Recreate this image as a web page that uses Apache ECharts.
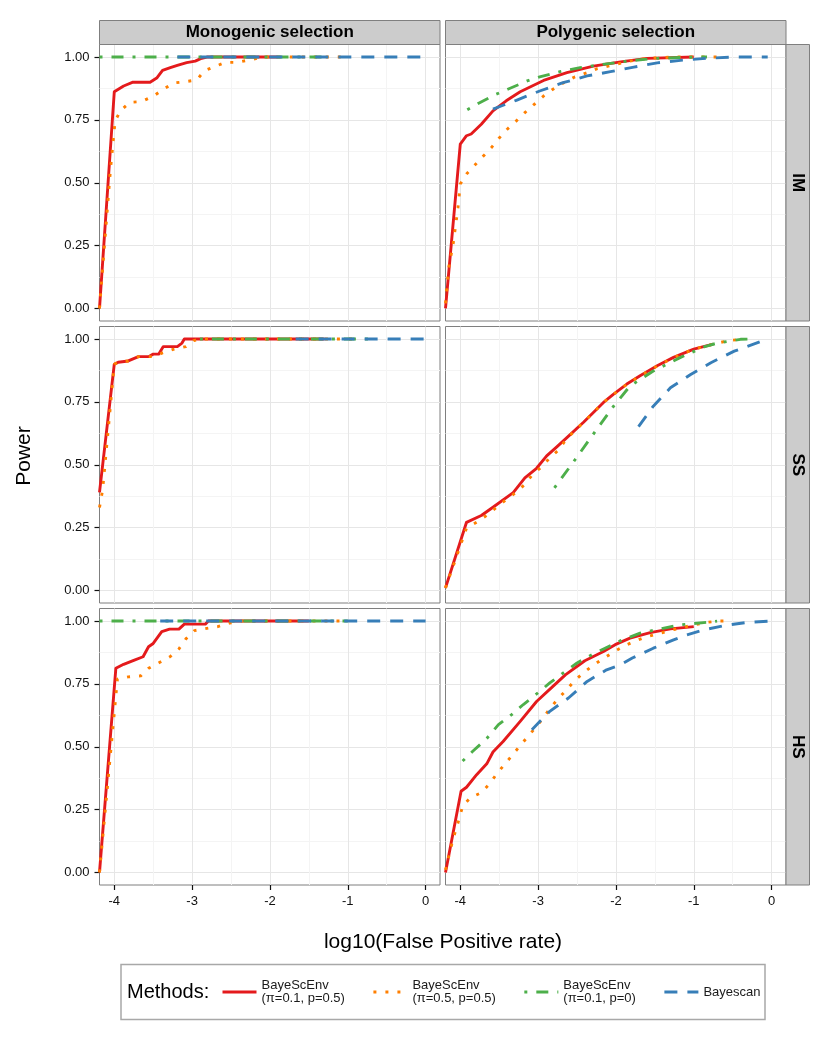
<!DOCTYPE html>
<html>
<head>
<meta charset="utf-8">
<title>Power vs log10(False Positive rate)</title>
<style type="text/css">
	html, body { margin:0; padding:0; background:#fff; }
	#container { width:830px; height:1038px; }
</style>
<script src="https://cdn.jsdelivr.net/npm/echarts@6/dist/echarts.min.js"></script>
</head>
<body>
<div id="container"></div>
<script type="text/javascript">
	// facet labels
	var colNames = ['Monogenic selection', 'Polygenic selection'];
	var rowNames = ['IM', 'SS', 'HS'];
	var methodNames = ['BayeScEnv\n(π=0.1, p=0.5)', 'BayeScEnv\n(π=0.5, p=0.5)', 'BayeScEnv\n(π=0.1, p=0)', 'Bayescan'];

	// axis ticks
	var xTicks = [-4, -3, -2, -1, 0];
	var xMinorTicks = [-3.5, -2.5, -1.5, -0.5];
	var yTicks = [0, 0.25, 0.5, 0.75, 1];
	var yMinorTicks = [0.125, 0.375, 0.625, 0.875];
	var xMin = -4.19, xMax = 0.185, yMin = -0.05, yMax = 1.05;

	// IM, monogenic  [log10 FPR, power]
	var imMonoEnv01 = [[-4.19,0],[-4.0,0.862],[-3.88,0.885],[-3.76,0.90],[-3.54,0.90],[-3.45,0.918],[-3.38,0.947],[-3.28,0.958],[-3.19,0.967],[-3.07,0.978],[-2.96,0.984],[-2.89,0.994],[-2.81,1],[-1.9,1]];
	var imMonoEnv05 = [[-4.19,0],[-4.05,0.55],[-3.99,0.745],[-3.92,0.787],[-3.80,0.82],[-3.65,0.823],[-3.50,0.844],[-3.38,0.87],[-3.24,0.897],[-3.09,0.902],[-2.94,0.909],[-2.84,0.946],[-2.71,0.962],[-2.57,0.979],[-2.42,0.979],[-2.26,0.989],[-2.08,1],[-1.0,1]];
	var imMonoEnvP0 = [[-4.19,1],[-1.3,1]];
	var imMonoScan = [[-3.19,1],[0,1]];

	// IM, polygenic
	var imPolyEnv01 = [[-4.19,0],[-4.0,0.654],[-3.92,0.687],[-3.86,0.694],[-3.73,0.733],[-3.58,0.786],[-3.41,0.826],[-3.23,0.862],[-2.93,0.907],[-2.63,0.938],[-2.29,0.964],[-1.94,0.981],[-1.60,0.995],[-1.0,1]];
	var imPolyEnv05 = [[-4.19,0.02],[-4.15,0.16],[-4.09,0.26],[-4.03,0.40],[-4.0,0.495],[-3.92,0.535],[-3.82,0.568],[-3.71,0.604],[-3.60,0.64],[-3.50,0.678],[-3.40,0.712],[-3.28,0.746],[-3.17,0.779],[-3.05,0.812],[-2.93,0.845],[-2.81,0.872],[-2.67,0.898],[-2.53,0.921],[-2.37,0.938],[-2.24,0.954],[-2.10,0.964],[-1.92,0.977],[-1.77,0.987],[-1.60,0.995],[-1.26,1],[-0.68,1]];
	var imPolyEnvP0 = [[-3.91,0.79],[-3.77,0.815],[-3.54,0.852],[-3.39,0.872],[-3.14,0.905],[-2.98,0.921],[-2.72,0.942],[-2.46,0.958],[-2.12,0.973],[-1.77,0.987],[-1.47,0.995],[-1.0,1],[-0.83,1]];
	var imPolyScan = [[-3.58,0.793],[-3.28,0.828],[-2.98,0.865],[-2.68,0.898],[-2.37,0.925],[-2.07,0.942],[-1.77,0.96],[-1.47,0.977],[-1.17,0.987],[-0.83,0.995],[-0.48,1],[-0.05,1]];

	// SS, monogenic
	var ssMonoEnv01 = [[-4.19,0.39],[-4.0,0.90],[-3.95,0.908],[-3.82,0.913],[-3.69,0.93],[-3.56,0.93],[-3.50,0.94],[-3.43,0.94],[-3.37,0.97],[-3.19,0.97],[-3.13,0.984],[-3.10,1],[-1.3,1]];
	var ssMonoEnv05 = [[-4.19,0.33],[-4.15,0.40],[-4.0,0.90],[-3.95,0.908],[-3.82,0.913],[-3.69,0.93],[-3.50,0.93],[-3.38,0.945],[-3.23,0.96],[-3.08,0.97],[-2.98,0.994],[-2.9,1],[-0.9,1]];
	var ssMonoEnvP0 = [[-2.9,1],[-0.7,1]];
	var ssMonoScan = [[-1.67,1],[0,1]];

	// SS, polygenic
	var ssPolyEnv01 = [[-4.19,0.01],[-3.92,0.271],[-3.73,0.298],[-3.58,0.331],[-3.32,0.389],[-3.17,0.448],[-3.02,0.486],[-2.89,0.535],[-2.76,0.571],[-2.63,0.608],[-2.42,0.668],[-2.16,0.748],[-2.03,0.781],[-1.86,0.821],[-1.69,0.854],[-1.47,0.894],[-1.26,0.927],[-1.0,0.96],[-0.75,0.98]];
	var ssPolyEnv05 = [[-4.19,0.01],[-3.92,0.248],[-3.79,0.271],[-3.66,0.299],[-3.54,0.329],[-3.42,0.359],[-3.29,0.389],[-3.17,0.422],[-3.07,0.462],[-2.96,0.49],[-2.85,0.527],[-2.74,0.558],[-2.63,0.605],[-2.42,0.668],[-2.16,0.748],[-2.03,0.78],[-1.86,0.82],[-1.69,0.853],[-1.47,0.893],[-1.26,0.926],[-1.0,0.96],[-0.70,0.984],[-0.52,0.995],[-0.35,1]];
	var ssPolyEnvP0 = [[-2.79,0.408],[-2.54,0.514],[-2.29,0.622],[-2.03,0.733],[-1.82,0.813],[-1.52,0.873],[-1.17,0.927],[-0.87,0.969],[-0.70,0.984],[-0.40,0.999],[-0.25,1]];
	var ssPolyScan = [[-1.71,0.652],[-1.52,0.733],[-1.30,0.806],[-1.04,0.859],[-0.78,0.906],[-0.48,0.952],[-0.05,1]];

	// HS, monogenic
	var hsMonoEnv01 = [[-4.19,0],[-3.98,0.812],[-3.88,0.828],[-3.75,0.844],[-3.63,0.858],[-3.56,0.898],[-3.50,0.911],[-3.39,0.958],[-3.29,0.968],[-3.17,0.968],[-3.10,0.988],[-2.83,0.988],[-2.79,1],[-1.5,1]];
	var hsMonoEnv05 = [[-4.19,0],[-3.96,0.769],[-3.82,0.778],[-3.66,0.782],[-3.56,0.812],[-3.42,0.835],[-3.28,0.859],[-3.17,0.889],[-3.08,0.929],[-2.97,0.962],[-2.81,0.971],[-2.67,0.978],[-2.52,0.992],[-2.36,1],[-1.0,1]];
	var hsMonoEnvP0 = [[-4.19,1],[-1.0,1]];
	var hsMonoScan = [[-3.41,1],[0,1]];

	// HS, polygenic
	var hsPolyEnv01 = [[-4.19,0],[-3.99,0.323],[-3.92,0.339],[-3.79,0.389],[-3.66,0.432],[-3.58,0.479],[-3.45,0.521],[-3.23,0.601],[-3.02,0.68],[-2.81,0.74],[-2.65,0.786],[-2.40,0.842],[-2.16,0.879],[-2.01,0.906],[-1.82,0.932],[-1.56,0.954],[-1.30,0.969],[-1.0,0.978]];
	var hsPolyEnv05 = [[-4.19,0.01],[-4.10,0.125],[-4.01,0.218],[-3.97,0.264],[-3.87,0.297],[-3.73,0.317],[-3.62,0.354],[-3.53,0.393],[-3.43,0.43],[-3.33,0.467],[-3.23,0.505],[-3.13,0.541],[-3.03,0.578],[-2.93,0.615],[-2.85,0.652],[-2.74,0.692],[-2.63,0.728],[-2.53,0.763],[-2.41,0.796],[-2.28,0.827],[-2.15,0.853],[-2.02,0.879],[-1.88,0.903],[-1.74,0.922],[-1.59,0.939],[-1.43,0.952],[-1.26,0.966],[-1.0,0.985],[-0.83,0.995],[-0.68,1],[-0.53,1]];
	var hsPolyEnvP0 = [[-3.97,0.443],[-3.84,0.482],[-3.66,0.533],[-3.51,0.588],[-3.34,0.628],[-3.19,0.668],[-3.02,0.71],[-2.85,0.754],[-2.68,0.793],[-2.50,0.833],[-2.31,0.866],[-2.12,0.895],[-1.92,0.925],[-1.69,0.952],[-1.43,0.969],[-1.17,0.985],[-0.83,0.995],[-0.70,1]];
	var hsPolyScan = [[-3.08,0.568],[-2.85,0.641],[-2.61,0.694],[-2.37,0.76],[-2.12,0.806],[-1.94,0.826],[-1.79,0.853],[-1.52,0.892],[-1.26,0.925],[-1.09,0.945],[-0.87,0.965],[-0.61,0.982],[-0.31,0.995],[0,1]];

	// panels[row][col] -> one array per method
	var panels = [
		[[imMonoEnv01, imMonoEnv05, imMonoEnvP0, imMonoScan], [imPolyEnv01, imPolyEnv05, imPolyEnvP0, imPolyScan]],
		[[ssMonoEnv01, ssMonoEnv05, ssMonoEnvP0, ssMonoScan], [ssPolyEnv01, ssPolyEnv05, ssPolyEnvP0, ssPolyScan]],
		[[hsMonoEnv01, hsMonoEnv05, hsMonoEnvP0, hsMonoScan], [hsPolyEnv01, hsPolyEnv05, hsPolyEnvP0, hsPolyScan]]
	];

	// looks
	var font = "'Liberation Sans', Arial, Helvetica, sans-serif";
	var colors = ['#E41A1C', '#FF7F00', '#4DAF4A', '#377EB8'];
	var dashes = ['solid', [3, 9], [3, 9, 12, 9], [13, 10]];
	var lineW = 2.9;
	var colLeft = [99.5, 445.5];
	var rowTop = [44.5, 326.5, 608.5];
	var panelW = 340.5, panelH = 276.5;
	var stripH = 24, stripW = 23.5;

	var dom = document.getElementById('container');
	var myChart = echarts.init(dom, null, { renderer: 'canvas' });

	var grids = [], xAxes = [], yAxes = [], series = [], graphics = [];

	for (var r = 0; r < 3; r++) {
		for (var c = 0; c < 2; c++) {
			var g = r * 2 + c;
			grids.push({
				left: colLeft[c], top: rowTop[r], width: panelW, height: panelH,
				show: true, backgroundColor: '#fff', borderColor: '#7f7f7f', borderWidth: 1
			});
			// minor grid lines (index 2g)
			xAxes.push({
				type: 'value', gridIndex: g, min: xMin, max: xMax, position: 'bottom',
				axisLine: { show: false, onZero: false },
				axisTick: { show: false, customValues: xMinorTicks },
				axisLabel: { show: false },
				splitLine: { show: true, lineStyle: { color: '#f4f4f4', width: 1 } }
			});
			yAxes.push({
				type: 'value', gridIndex: g, min: yMin, max: yMax, position: 'left',
				axisLine: { show: false, onZero: false },
				axisTick: { show: false, customValues: yMinorTicks },
				axisLabel: { show: false },
				splitLine: { show: true, lineStyle: { color: '#f4f4f4', width: 1 } }
			});
			// major axes (index 2g+1)
			xAxes.push({
				type: 'value', gridIndex: g, min: xMin, max: xMax, position: 'bottom',
				axisLine: { show: false, onZero: false },
				axisTick: { show: r === 2, customValues: xTicks, length: 5, lineStyle: { color: '#111', width: 1.2 } },
				axisLabel: { show: r === 2, customValues: xTicks, margin: 10, fontSize: 13, color: '#111', fontFamily: font },
				splitLine: { show: true, lineStyle: { color: '#e6e6e6', width: 1 } }
			});
			yAxes.push({
				type: 'value', gridIndex: g, min: yMin, max: yMax, position: 'left',
				axisLine: { show: false, onZero: false },
				axisTick: { show: c === 0, customValues: yTicks, length: 5, lineStyle: { color: '#111', width: 1.2 } },
				axisLabel: {
					show: c === 0, customValues: yTicks, margin: 10, fontSize: 13, color: '#111', fontFamily: font,
					formatter: function (v) { return v.toFixed(2); }
				},
				splitLine: { show: true, lineStyle: { color: '#e6e6e6', width: 1 } }
			});

			for (var m = 0; m < 4; m++) {
				series.push({
					name: methodNames[m],
					type: 'line',
					xAxisIndex: 2 * g + 1,
					yAxisIndex: 2 * g + 1,
					data: panels[r][c][m],
					symbol: 'none',
					showSymbol: false,
					clip: true,
					color: colors[m],
					lineStyle: { color: colors[m], width: lineW, type: dashes[m], cap: 'butt', join: 'round' },
					silent: true,
					z: 2 + m
				});
			}
		}
	}

	// strips on top (columns)
	for (var c2 = 0; c2 < 2; c2++) {
		graphics.push({
			type: 'rect', z: 100,
			shape: { x: colLeft[c2], y: rowTop[0] - stripH, width: panelW, height: stripH },
			style: { fill: '#cccccc', stroke: '#7f7f7f', lineWidth: 1 }
		});
		graphics.push({
			type: 'text', z: 101,
			x: colLeft[c2] + panelW / 2, y: rowTop[0] - stripH / 2,
			style: {
				text: colNames[c2], font: 'bold 17px ' + font, fill: '#000',
				align: 'center', verticalAlign: 'middle', textAlign: 'center', textVerticalAlign: 'middle'
			}
		});
	}
	// strips on the right (rows)
	for (var r2 = 0; r2 < 3; r2++) {
		var sx = colLeft[1] + panelW;
		graphics.push({
			type: 'rect', z: 100,
			shape: { x: sx, y: rowTop[r2], width: stripW, height: panelH },
			style: { fill: '#cccccc', stroke: '#7f7f7f', lineWidth: 1 }
		});
		graphics.push({
			type: 'text', z: 101,
			x: sx + stripW / 2, y: rowTop[r2] + panelH / 2,
			rotation: -Math.PI / 2,
			style: {
				text: rowNames[r2], font: 'bold 17px ' + font, fill: '#000',
				align: 'center', verticalAlign: 'middle', textAlign: 'center', textVerticalAlign: 'middle'
			}
		});
	}
	// axis titles
	graphics.push({
		type: 'text', z: 101, x: 443, y: 942,
		style: { text: 'log10(False Positive rate)', font: '21px ' + font, fill: '#000',
			align: 'center', verticalAlign: 'middle', textAlign: 'center', textVerticalAlign: 'middle' }
	});
	graphics.push({
		type: 'text', z: 101, x: 24, y: 456, rotation: Math.PI / 2,
		style: { text: 'Power', font: '21px ' + font, fill: '#000',
			align: 'center', verticalAlign: 'middle', textAlign: 'center', textVerticalAlign: 'middle' }
	});
	// legend box + title
	graphics.push({
		type: 'rect', z: 1,
		shape: { x: 121, y: 964.5, width: 644, height: 55 },
		style: { fill: '#fff', stroke: '#a8a8a8', lineWidth: 1.5 }
	});
	graphics.push({
		type: 'text', z: 101, x: 127, y: 992,
		style: { text: 'Methods:', font: '20px ' + font, fill: '#000',
			align: 'left', verticalAlign: 'middle', textAlign: 'left', textVerticalAlign: 'middle' }
	});

	var option = {
		animation: false,
		backgroundColor: '#fff',
		grid: grids,
		xAxis: xAxes,
		yAxis: yAxes,
		legend: {
			data: methodNames,
			left: 221, top: 979,
			orient: 'horizontal',
			padding: 0,
			itemWidth: 34, itemHeight: 14, itemGap: 27,
			selectedMode: false,
			// hide the marker dot, keep only the line sample
			itemStyle: { color: 'rgba(0,0,0,0)', borderWidth: 0 },
			lineStyle: { width: 3 },
			textStyle: { fontSize: 13, lineHeight: 13, color: '#1a1a1a', fontFamily: font },
			z: 50
		},
		graphic: graphics,
		series: series
	};

	myChart.setOption(option, true);
</script>
</body>
</html>
